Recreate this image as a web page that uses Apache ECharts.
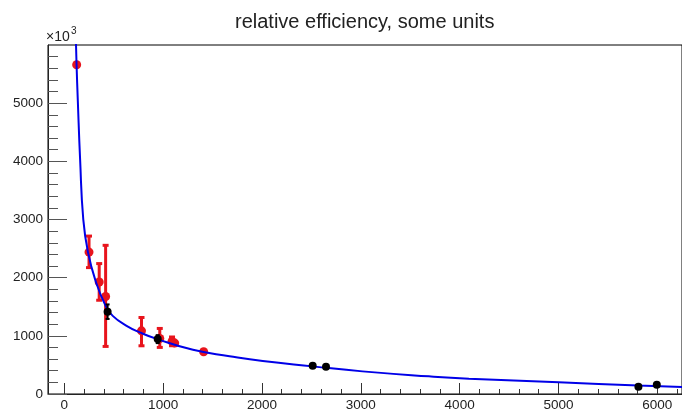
<!DOCTYPE html>
<html>
<head>
<meta charset="utf-8">
<script src="https://cdn.jsdelivr.net/npm/echarts@6/dist/echarts.min.js"></script>
<style>html,body{margin:0;padding:0;background:#fff}#c{width:682px;height:412px}</style>
</head>
<body>
<div id="c"></div>
<script>
// ---- data ----
const titleText = 'relative efficiency, some units';
const xMajorTicks = [0, 1000, 2000, 3000, 4000, 5000, 6000];
const xMinorTicks = [200, 400, 600, 800, 1200, 1400, 1600, 1800, 2200, 2400, 2600, 2800, 3200, 3400, 3600, 3800, 4200, 4400, 4600, 4800, 5200, 5400, 5600, 5800, 6200];
const yMajorTicks = [0, 1000, 2000, 3000, 4000, 5000];
const yMinorTicks = [200, 400, 600, 800, 1200, 1400, 1600, 1800, 2200, 2400, 2600, 2800, 3200, 3400, 3600, 3800, 4200, 4400, 4600, 4800, 5200, 5400, 5600, 5800];

// fit curve
const curveX = [117, 124, 137, 160, 192, 239, 320, 418, 490, 630, 770, 942, 1302, 1672, 2008, 2513, 3017, 3690, 4094, 5002, 5809, 6260];
const curveY = [6090, 5660, 5030, 4030, 3000, 2440, 1926, 1515, 1343, 1172, 1055, 943, 760, 650, 566, 475, 389, 304, 264, 201, 145, 120];

// red points with error bars
const redX    = [125, 250, 353, 418, 781, 966, 1090, 1117, 1410];
const redY    = [5660, 2440, 1926, 1676, 1086, 955, 905, 875, 726];
const redLow  = [5660, 2173, 1612, 818, 829, 801, 830, 875, 726];
const redHigh = [5660, 2715, 2242, 2556, 1315, 1127, 980, 875, 726];

// black points with error bars
const blackX    = [438, 945, 2513, 2648, 5809, 5995];
const blackY    = [1412, 945, 486, 469, 125, 160];
const blackLow  = [1290, 875, 460, 445, 95, 135];
const blackHigh = [1540, 1012, 512, 493, 155, 185];

const FONT = '"Liberation Sans", Arial, Helvetica, sans-serif';
const xMin = -165, xMax = 6250, yMin = 0, yMax = 6000;

function errData(xs, lo, hi) { return xs.map((x, i) => [x, lo[i], hi[i]]); }
function ptData(xs, ys) { return xs.map((x, i) => [x, ys[i]]); }

function errRenderer(color, width, cap) {
  return function (params, api) {
    const x = api.value(0), lo = api.value(1), hi = api.value(2);
    if (lo === hi) return null;
    const p1 = api.coord([x, lo]);
    const p2 = api.coord([x, hi]);
    const style = { stroke: color, lineWidth: width };
    return {
      type: 'group',
      children: [
        { type: 'line', shape: { x1: p1[0], y1: p1[1], x2: p2[0], y2: p2[1] }, style },
        { type: 'line', shape: { x1: p1[0] - cap, y1: p1[1], x2: p1[0] + cap, y2: p1[1] }, style },
        { type: 'line', shape: { x1: p2[0] - cap, y1: p2[1], x2: p2[0] + cap, y2: p2[1] }, style }
      ]
    };
  };
}

const chart = echarts.init(document.getElementById('c'), null, { renderer: 'canvas' });
const RED = '#e8141c', BLUE = '#0000e8', AX = '#222';
const plain = v => String(v);

chart.setOption({
  animation: false,
  backgroundColor: '#fff',
  title: {
    text: titleText, left: 230, top: 7,
    textStyle: { fontFamily: FONT, fontSize: 20, fontWeight: 'normal', color: '#222' }
  },
  graphic: [
    { type: 'text', left: 46, top: 30, style: { text: '×10', font: '14px ' + FONT, fill: '#222' } },
    { type: 'text', left: 71, top: 26, style: { text: '3', font: '10px ' + FONT, fill: '#222' } }
  ],
  grid: { left: 48, right: -2, top: 45, bottom: 17, show: true, borderColor: '#000', borderWidth: 1, backgroundColor: 'transparent' },
  xAxis: [
    {
      type: 'value', min: xMin, max: xMax,
      axisLine: { show: true, onZero: false, lineStyle: { color: AX, width: 1 } },
      axisTick: { show: true, inside: true, length: 11, customValues: xMajorTicks, lineStyle: { color: '#333' } },
      axisLabel: { show: true, customValues: xMajorTicks, formatter: plain, margin: 4, fontFamily: FONT, fontSize: 13.5, color: '#222' },
      splitLine: { show: false }
    },
    {
      type: 'value', min: xMin, max: xMax, position: 'bottom',
      axisLine: { show: false, onZero: false },
      axisTick: { show: true, inside: true, length: 5, customValues: xMinorTicks, lineStyle: { color: '#333' } },
      axisLabel: { show: false },
      splitLine: { show: false }
    }
  ],
  yAxis: [
    {
      type: 'value', min: yMin, max: yMax,
      axisLine: { show: true, onZero: false, lineStyle: { color: AX, width: 1 } },
      axisTick: { show: true, inside: true, length: 19, customValues: yMajorTicks, lineStyle: { color: '#555' } },
      axisLabel: { show: true, customValues: yMajorTicks, formatter: plain, margin: 5, fontFamily: FONT, fontSize: 13.5, color: '#222' },
      splitLine: { show: false }
    },
    {
      type: 'value', min: yMin, max: yMax, position: 'left',
      axisLine: { show: false, onZero: false },
      axisTick: { show: true, inside: true, length: 10, customValues: yMinorTicks, lineStyle: { color: '#555' } },
      axisLabel: { show: false },
      splitLine: { show: false }
    }
  ],
  series: [
    {
      type: 'custom', name: 'redErr', xAxisIndex: 0, yAxisIndex: 0,
      renderItem: errRenderer(RED, 3, 3), data: errData(redX, redLow, redHigh), clip: true, z: 2
    },
    {
      type: 'scatter', name: 'red', xAxisIndex: 0, yAxisIndex: 0,
      data: ptData(redX, redY), symbol: 'circle', symbolSize: 9,
      itemStyle: { color: RED, opacity: 1 }, z: 3
    },
    {
      type: 'line', name: 'fit', xAxisIndex: 0, yAxisIndex: 0,
      data: ptData(curveX, curveY), showSymbol: false, smooth: 0.5,
      lineStyle: { color: BLUE, width: 2 }, clip: true, z: 4
    },
    {
      type: 'custom', name: 'blackErr', xAxisIndex: 0, yAxisIndex: 0,
      renderItem: errRenderer('#000', 2, 2), data: errData(blackX, blackLow, blackHigh), clip: true, z: 5
    },
    {
      type: 'scatter', name: 'black', xAxisIndex: 0, yAxisIndex: 0,
      data: ptData(blackX, blackY), symbol: 'circle', symbolSize: 8,
      itemStyle: { color: '#000', opacity: 1 }, z: 6
    }
  ]
});
</script>
</body>
</html>
